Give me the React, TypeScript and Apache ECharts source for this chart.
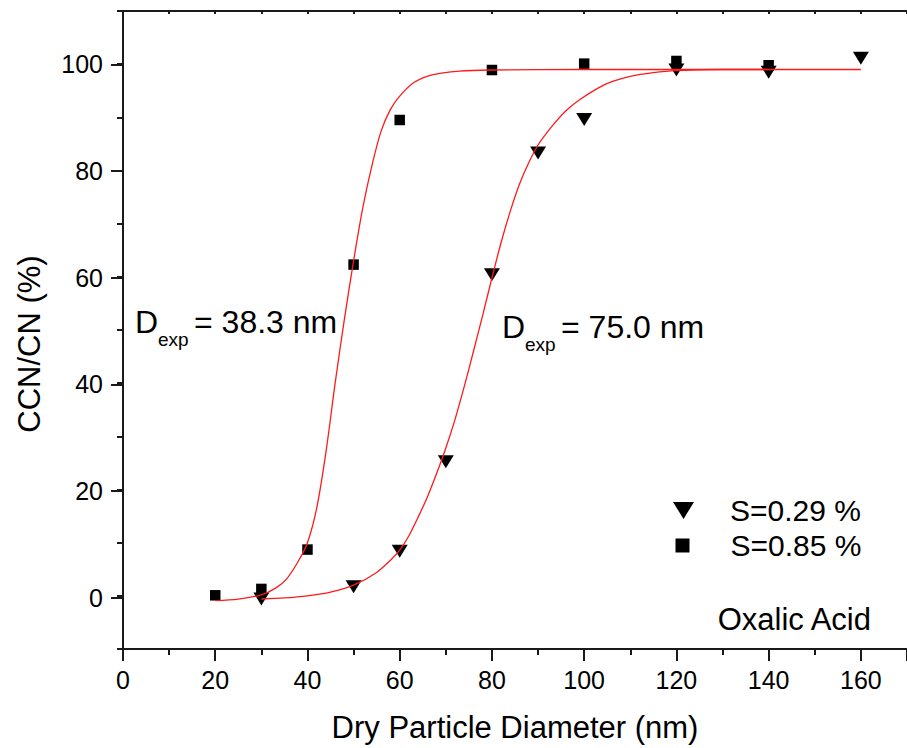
import React, { useEffect, useRef } from "react";
import * as echarts from "echarts";

// Measured data (S = 0.29 %, triangles)
const triX = [30, 50, 60, 70, 80, 90, 100, 120, 140, 160];
const triY = [-0.6, 1.7, 8.4, 25.2, 60.4, 83.3, 89.6, 98.9, 98.5, 101.1];
// Measured data (S = 0.85 %, squares)
const sqX = [20, 30, 40, 50, 60, 80, 100, 120, 140];
const sqY = [0.1, 1.3, 8.7, 62.3, 89.5, 98.9, 100.1, 100.6, 99.8];

// Fitted curves
const sqFitX = [20, 25, 30, 33, 35.5, 38, 40, 42, 44, 46, 48, 50, 52, 54, 56, 58, 60, 63, 67, 73, 80, 100, 120, 140];
const sqFitY = [-0.9, -0.6, 0.2, 1.4, 3.2, 6.5, 10, 16.5, 27, 40, 52, 63, 73, 81, 87.5, 91.5, 94, 96.5, 98, 98.7, 98.9, 99, 99, 99];
const triFitX = [30, 35, 40, 45, 50, 55, 58, 60, 62, 64, 66, 68, 70, 72, 74, 76, 78, 80, 82, 84, 86, 88, 90, 93, 96, 99, 103, 106, 110, 115, 120, 130, 145, 160];
const triFitY = [-0.6, -0.4, 0, 0.7, 2.0, 4.4, 6.7, 8.6, 11.3, 14.8, 18.6, 23.0, 27.8, 33.2, 39.4, 46, 52.8, 59.8, 66.5, 72.4, 77.5, 81.5, 84.8, 88.3, 91.2, 93.3, 95.5, 96.7, 97.7, 98.4, 98.8, 99, 99, 99];

const xTitle = "Dry Particle Diameter (nm)";
const yTitle = "CCN/CN (%)";
const seriesNames = ["S=0.29 %", "S=0.85 %"];
const annotations = [
  { value: "= 38.3 nm" },
  { value: "= 75.0 nm" },
];
const sampleLabel = "Oxalic Acid";

const FONT = "'Liberation Sans', Arial, sans-serif";
const AX = "#1a1a1a";

export default function App() {
  const ref = useRef<HTMLDivElement>(null);
  useEffect(() => {
    if (!ref.current) return;
    const chart = echarts.init(ref.current, null, { renderer: "svg" });
    const zip = (xs: number[], ys: number[]) => xs.map((x, i) => [x, ys[i]]);
    const subText = (x: number, y: number, val: string) => [
      { type: "text", x, y, style: { text: "D", font: `32px ${FONT}`, fill: "#000", textVerticalAlign: "middle" } },
      { type: "text", x: x + 23, y: y + 17, style: { text: "exp", font: `19px ${FONT}`, fill: "#000", textVerticalAlign: "middle" } },
      { type: "text", x: x + 59, y, style: { text: val, font: `32px ${FONT}`, fill: "#000", textVerticalAlign: "middle" } },
    ];
    const option: any = {
      animation: false,
      textStyle: { fontFamily: FONT },
      grid: [
        { left: 123, top: 11, width: 787, height: 640 },
        { left: 123, top: 64.33, width: 787, height: 533.33 },
      ],
      xAxis: [
        {
          type: "value", gridIndex: 0, position: "bottom", min: 0, max: 170, interval: 20,
          axisLine: { onZero: false, lineStyle: { color: AX, width: 2 } },
          axisTick: { show: true, length: 12, inside: false, lineStyle: { color: AX, width: 2 } },
          minorTick: { show: true, splitNumber: 2, length: 6, lineStyle: { color: AX, width: 2 } },
          splitLine: { show: false },
          axisLabel: { fontSize: 25, color: "#000", margin: 18, fontFamily: FONT, showMaxLabel: false },
          name: xTitle, nameLocation: "middle", nameGap: 63,
          nameTextStyle: { fontSize: 31, color: "#000", fontFamily: FONT },
        },
        {
          type: "value", gridIndex: 0, position: "top", min: 0, max: 170, interval: 10,
          axisLine: { onZero: false, lineStyle: { color: AX, width: 2 } },
          axisTick: { show: true, length: 3, inside: true, lineStyle: { color: AX, width: 2 } },
          axisLabel: { show: false },
          splitLine: { show: false },
        },
        { type: "value", gridIndex: 1, min: 0, max: 170, show: false },
      ],
      yAxis: [
        {
          type: "value", gridIndex: 0, position: "left", min: -10, max: 110, interval: 10,
          axisLine: { onZero: false, lineStyle: { color: AX, width: 2 } },
          axisTick: { show: true, length: 6, lineStyle: { color: AX, width: 2 } },
          axisLabel: { show: false },
          splitLine: { show: false },
        },
        {
          type: "value", gridIndex: 1, position: "left", min: 0, max: 100, interval: 20,
          axisLine: { show: false, onZero: false },
          axisTick: { show: true, length: 12, lineStyle: { color: AX, width: 2 } },
          axisLabel: { fontSize: 25, color: "#000", margin: 20, fontFamily: FONT },
          splitLine: { show: false },
        },
      ],
      legend: [
        {
          data: [{ name: seriesNames[0], icon: "path://M0,0 L21,0 L10.5,17 Z" }],
          left: 668, top: 490.5, itemWidth: 21, itemHeight: 17,
          symbolKeepAspect: false, selectedMode: false,
          itemStyle: { opacity: 1, color: "#000" },
          textStyle: { fontSize: 30, color: "#000", fontFamily: FONT, padding: [0, 0, 6, 31] },
        },
        {
          data: [{ name: seriesNames[1], icon: "rect" }],
          left: 670.5, top: 525.5, itemWidth: 14, itemHeight: 14,
          symbolKeepAspect: false, selectedMode: false,
          itemStyle: { opacity: 1, color: "#000" },
          textStyle: { fontSize: 30, color: "#000", fontFamily: FONT, padding: [0, 0, 2, 36] },
        },
      ],
      series: [
        {
          name: seriesNames[0], type: "scatter", xAxisIndex: 0, yAxisIndex: 0,
          data: zip(triX, triY), symbol: "triangle", symbolRotate: 180, symbolSize: [16, 13],
          itemStyle: { color: "#000", opacity: 1 }, z: 2,
        },
        {
          name: seriesNames[1], type: "scatter", xAxisIndex: 0, yAxisIndex: 0,
          data: zip(sqX, sqY), symbol: "rect", symbolSize: 10.5,
          itemStyle: { color: "#000", opacity: 1 }, z: 2,
        },
        {
          name: "fit1", type: "line", xAxisIndex: 0, yAxisIndex: 0, data: zip(triFitX, triFitY),
          showSymbol: false, smooth: 0.3,
          lineStyle: { color: "#ff1a1a", width: 1.3 }, z: 3, silent: true,
        },
        {
          name: "fit2", type: "line", xAxisIndex: 0, yAxisIndex: 0, data: zip(sqFitX, sqFitY),
          showSymbol: false, smooth: 0.3,
          lineStyle: { color: "#ff1a1a", width: 1.3 }, z: 3, silent: true,
        },
      ],
      graphic: [
        {
          type: "text", x: 29, y: 344, rotation: Math.PI / 2,
          style: { text: yTitle, font: `31px ${FONT}`, fill: "#000", textAlign: "center", textVerticalAlign: "middle" },
        },
        ...subText(135, 322, annotations[0].value),
        ...subText(502, 327, annotations[1].value),
        {
          type: "text", x: 871, y: 619,
          style: { text: sampleLabel, font: `31px ${FONT}`, fill: "#000", textAlign: "right", textVerticalAlign: "middle" },
        },
      ],
    };
    chart.setOption(option);
    return () => chart.dispose();
  }, []);
  return <div ref={ref} style={{ position: "absolute", left: 0, top: 0, width: 907, height: 748, background: "#fff" }} />;
}
